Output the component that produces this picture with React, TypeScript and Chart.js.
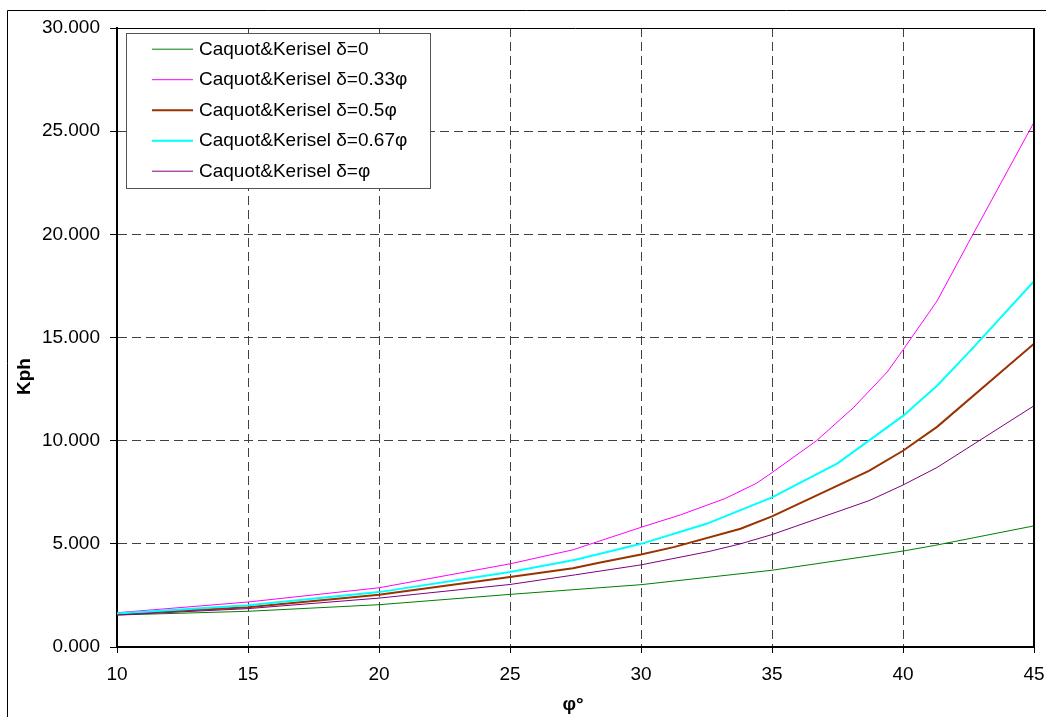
import React, { useEffect, useRef } from 'react';
import { Chart, registerables } from 'chart.js';

Chart.register(...registerables);

const FONT = "'Liberation Sans', Arial, Helvetica, sans-serif";

const seriesLabels = [
  'Caquot&Kerisel δ=0',
  'Caquot&Kerisel δ=0.33φ',
  'Caquot&Kerisel δ=0.5φ',
  'Caquot&Kerisel δ=0.67φ',
  'Caquot&Kerisel δ=φ',
];

// δ = 0
const phiD0 = [10, 15, 20, 25, 28.4, 30, 35, 40, 41.2, 45];
const kphD0 = [1.55, 1.73, 2.05, 2.55, 2.87, 3.02, 3.72, 4.65, 4.92, 5.87];

// δ = 0.33φ
const phiD033 = [10, 15, 20, 25, 27.4, 30, 31.5, 33.2, 34.4, 35, 36.7, 38.1, 39.4, 40, 41.3, 42.5, 45];
const kphD033 = [1.66, 2.18, 2.87, 4.03, 4.71, 5.8, 6.4, 7.19, 7.93, 8.45, 10.0, 11.59, 13.33, 14.4, 16.77, 19.6, 25.43];

// δ = 0.5φ
const phiD05 = [10, 15, 20, 25, 27.4, 28.4, 30, 31.25, 33.8, 35, 38.7, 40, 41.3, 45];
const kphD05 = [1.6, 1.93, 2.53, 3.39, 3.82, 4.08, 4.48, 4.84, 5.73, 6.33, 8.54, 9.51, 10.67, 14.7];

// δ = 0.67φ
const phiD067 = [10, 15, 20, 25, 27.5, 30, 32.5, 35, 37.5, 40, 41.3, 42.6, 45];
const kphD067 = [1.62, 2.02, 2.66, 3.63, 4.23, 5.0, 5.97, 7.25, 8.9, 11.2, 12.66, 14.4, 17.73];

// δ = φ
const phiD1 = [10, 15, 20, 25, 27.5, 30, 32.6, 33.8, 35, 38.7, 40, 41.3, 45];
const kphD1 = [1.55, 1.86, 2.37, 3.03, 3.5, 3.98, 4.63, 5.0, 5.45, 7.09, 7.85, 8.7, 11.69];

const seriesPhi = [phiD0, phiD033, phiD05, phiD067, phiD1];
const seriesKph = [kphD0, kphD033, kphD05, kphD067, kphD1];
const seriesColors = ['#008000', '#FF00FF', '#993300', '#00FFFF', '#800080'];
const seriesWidths = [1, 1, 2, 2, 1];

const xTicksMin = 10;
const xTicksMax = 45;
const xStep = 5;
const yTicksMin = 0;
const yTicksMax = 30;
const yStep = 5;

const xTitle = 'φ°';
const yTitle = 'Kph';

export default function App() {
  const ref = useRef<HTMLCanvasElement | null>(null);

  useEffect(() => {
    const canvas = ref.current;
    if (!canvas) return;

    const decor = {
      id: 'decor',
      beforeDraw(chart: any) {
        const c = chart.ctx;
        c.save();
        c.fillStyle = '#ffffff';
        c.fillRect(0, 0, chart.width, chart.height);
        c.strokeStyle = '#000';
        c.lineWidth = 1;
        c.beginPath();
        c.moveTo(7.5, chart.height);
        c.lineTo(7.5, 10.5);
        c.lineTo(chart.width, 10.5);
        c.stroke();
        c.restore();
      },
      afterDatasetsDraw(chart: any) {
        const c = chart.ctx;
        const a = chart.chartArea;
        c.save();
        // plot area top and right edges
        c.strokeStyle = '#000';
        c.lineWidth = 1;
        c.beginPath();
        c.moveTo(a.left, a.top + 0.5);
        c.lineTo(a.right, a.top + 0.5);
        c.stroke();
        c.lineWidth = 2;
        c.beginPath();
        c.moveTo(a.right, a.top);
        c.lineTo(a.right, a.bottom);
        c.stroke();

        // legend
        const lx = 126.5, ly = 33.5, lw = 304, lh = 155;
        c.fillStyle = '#fff';
        c.fillRect(lx, ly, lw, lh);
        c.strokeStyle = '#555';
        c.lineWidth = 1;
        c.strokeRect(lx, ly, lw, lh);
        c.font = `19px ${FONT}`;
        c.textAlign = 'left';
        c.textBaseline = 'alphabetic';
        seriesLabels.forEach((lab, i) => {
          const base = 54.7 + 30.5 * i;
          const ly2 = base - 5.5;
          c.strokeStyle = seriesColors[i];
          c.lineWidth = seriesWidths[i];
          c.beginPath();
          c.moveTo(152, ly2);
          c.lineTo(193, ly2);
          c.stroke();
          c.fillStyle = '#000';
          c.fillText(lab, 199, base);
        });

        // axis titles
        c.fillStyle = '#000';
        c.font = `bold 19px ${FONT}`;
        c.textAlign = 'center';
        c.textBaseline = 'alphabetic';
        c.fillText(xTitle, 573, 710);
        c.save();
        c.translate(30, 376.5);
        c.rotate(-Math.PI / 2);
        c.fillText(yTitle, 0, 0);
        c.restore();
        c.restore();
      },
    };

    const datasets = seriesLabels.map((label, i) => ({
      label,
      data: seriesPhi[i].map((x, j) => ({ x, y: seriesKph[i][j] })),
      borderColor: seriesColors[i],
      backgroundColor: seriesColors[i],
      borderWidth: seriesWidths[i],
      pointRadius: 0,
      tension: 0,
      fill: false,
      order: seriesLabels.length - i,
    }));

    const chart = new Chart(canvas, {
      type: 'line',
      data: { datasets },
      options: {
        responsive: false,
        animation: false,
        layout: { padding: { left: 0, top: 28, right: 12, bottom: 0 } },
        plugins: {
          legend: { display: false },
          tooltip: { enabled: false },
        },
        scales: {
          x: {
            type: 'linear',
            min: xTicksMin,
            max: xTicksMax,
            afterFit(scale: any) {
              scale.height = 70;
              scale.paddingLeft = 0;
              scale.paddingRight = 0;
            },
            ticks: {
              stepSize: xStep,
              color: '#000',
              padding: 10,
              font: { family: FONT, size: 19 },
              maxRotation: 0,
            },
            grid: {
              color: '#404040',
              lineWidth: 1,
              tickColor: '#000',
              tickLength: 6,
              tickBorderDash: [],
            },
            border: { display: true, color: '#000', width: 2, dash: [9, 5] },
          },
          y: {
            type: 'linear',
            min: yTicksMin,
            max: yTicksMax,
            afterFit(scale: any) {
              scale.width = 117;
              scale.paddingTop = 0;
              scale.paddingBottom = 0;
            },
            ticks: {
              stepSize: yStep,
              color: '#000',
              padding: 10,
              font: { family: FONT, size: 19 },
              callback: (v: any) => Number(v).toFixed(3),
            },
            grid: {
              color: '#404040',
              lineWidth: 1,
              tickColor: '#000',
              tickLength: 7,
              tickBorderDash: [],
            },
            border: { display: true, color: '#000', width: 2, dash: [9, 5] },
          },
        },
      } as any,
      plugins: [decor],
    });

    return () => chart.destroy();
  }, []);

  return (
    <div style={{ position: 'fixed', left: 0, top: 0, width: 1046, height: 717, background: '#fff' }}>
      <canvas ref={ref} width={1046} height={717} style={{ display: 'block', width: 1046, height: 717 }} />
    </div>
  );
}
